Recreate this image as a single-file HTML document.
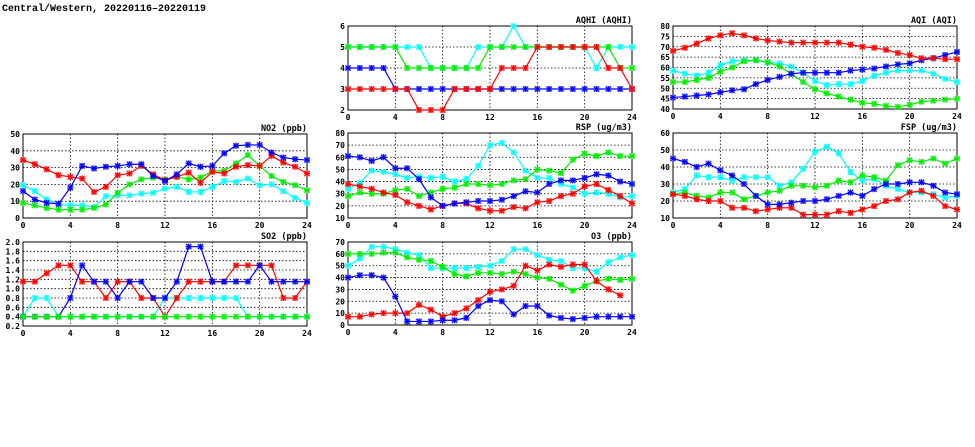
<!DOCTYPE html>
<html><head><meta charset="utf-8"><style>
html,body{margin:0;padding:0;background:#fff;width:975px;height:447px;overflow:hidden}
svg text{font-family:"DejaVu Sans Mono","Liberation Mono",monospace;font-weight:bold;fill:#000}
</style></head><body>
<svg id="s" width="975" height="447" xmlns="http://www.w3.org/2000/svg">
<text x="2" y="11" font-size="10" style="font-family:'Liberation Mono',monospace">Central/Western, 20220116–20220119</text>
</svg>
<script>
const S=document.getElementById('s');const NS='http://www.w3.org/2000/svg';
function el(t,a,txt){const e=document.createElementNS(NS,t);for(const k in a)e.setAttribute(k,a[k]);if(txt!=null)e.textContent=txt;S.appendChild(e);return e;}
const C={r:'#ff0000',g:'#00ee00',b:'#0000ff',c:'#00ffff'};
function panel(p){
 const {x0,x1,y0,y1,ymin,ymax,step,title,series,dec}=p;
 const X=h=>x0+(x1-x0)*h/24, Y=v=>y1-(y1-y0)*(v-ymin)/(ymax-ymin);
 for(let h=4;h<24;h+=4)el('line',{x1:X(h),x2:X(h),y1:y0,y2:y1,stroke:'#000','stroke-width':0.8,'stroke-dasharray':'1.5,2'});
 for(let v=ymin+step;v<ymax-1e-9;v+=step)el('line',{x1:x0,x2:x1,y1:Y(v),y2:Y(v),stroke:'#000','stroke-width':0.8,'stroke-dasharray':'1.5,2'});
 el('rect',{x:x0,y:y0,width:x1-x0,height:y1-y0,fill:'none',stroke:'#000','stroke-width':1});
 for(let v=ymin;v<=ymax+1e-9;v+=step){el('text',{x:x0-3,y:Y(v)+3,'font-size':8,'text-anchor':'end'},dec?v.toFixed(1):Math.round(v));}
 for(let h=0;h<=24;h+=4)el('text',{x:X(h),y:y1+10,'font-size':8,'text-anchor':'middle'},h);
 el('text',{x:x1,y:y0-3,'font-size':8.5,'text-anchor':'end'},title);
 for(const [c,d] of series){
  let pts=[];d.forEach((v,i)=>{if(v!=null)pts.push([X(i),Y(v)])});
  el('polyline',{points:pts.map(q=>q.join(',')).join(' '),fill:'none',stroke:C[c],'stroke-width':1.2});
  for(const [x,y] of pts){
   el('rect',{x:x-3,y:y-3,width:6,height:6,fill:C[c],opacity:0.3});
   el('path',{d:`M${x-3},${y}H${x+3}M${x},${y-3}V${y+3}M${x-2.5},${y-2.5}L${x+2.5},${y+2.5}M${x-2.5},${y+2.5}L${x+2.5},${y-2.5}`,stroke:C[c],'stroke-width':1.1});
  }
 }
}
panel({x0:23,x1:307,y0:134,y1:218,ymin:0,ymax:50,step:10,title:'NO2 (ppb)',series:[
 ['c',[19.5,16,11,8,7.5,7.5,6.5,13,13.5,13.5,14.5,15,17.5,18.5,15.5,15.5,18.5,22,21.5,23.5,19.5,20,16,12,9]],
 ['g',[9,7.5,6,5,5,5,6,8,15,20,23,24,23,24.5,23,24,28,28,32.5,37.5,31,25,21.5,19.5,16.5]],
 ['r',[34.5,32,29,25.5,24.5,23.5,15.5,18.5,25.5,26.5,31,26,22.5,24.5,27,21,27.5,26.5,30.5,31.5,31,37,33,30.5,26.5]],
 ['b',[16,11,9,8.5,18,31,29.5,30.5,31,32,32,25,22,26,32.5,30.5,31,38.5,43,43.5,43.5,39,36,35,34.5]]]});
panel({x0:23,x1:307,y0:242,y1:326,ymin:0.2,ymax:2.0,step:0.2,dec:1,title:'SO2 (ppb)',series:[
 ['c',[.4,.8,.8,.4,.4,.4,.4,.4,.4,.4,.4,.4,.8,.8,.8,.8,.8,.8,.8,.4,.4,.4,.4,.4,.4]],
 ['r',[1.15,1.15,1.33,1.5,1.5,1.15,1.15,.8,1.15,1.15,.8,.8,.4,.8,1.15,1.15,1.15,1.15,1.5,1.5,1.5,1.5,.8,.8,1.15]],
 ['b',[.4,.4,.4,.4,.8,1.5,1.15,1.15,.8,1.15,1.15,.8,.8,1.15,1.9,1.9,1.15,1.15,1.15,1.15,1.5,1.15,1.15,1.15,1.15]],
 ['g',Array(25).fill(.4)]]});
panel({x0:348,x1:632,y0:26,y1:110,ymin:2,ymax:6,step:1,title:'AQHI (AQHI)',series:[
 ['c',[5,5,5,5,5,5,5,4,4,4,4,5,5,5,6,5,5,5,5,5,5,4,5,5,5]],
 ['g',[5,5,5,5,5,4,4,4,4,4,4,4,5,5,5,5,5,5,5,5,5,5,5,4,4]],
 ['b',[4,4,4,4,3,3,3,3,3,3,3,3,3,3,3,3,3,3,3,3,3,3,3,3,3]],
 ['r',[3,3,3,3,3,3,2,2,2,3,3,3,3,4,4,4,5,5,5,5,5,5,4,4,3]]]});
panel({x0:348,x1:632,y0:133,y1:218,ymin:10,ymax:80,step:10,title:'RSP (ug/m3)',series:[
 ['c',[34,39,49,48,46,43,44,43,44,40,42,53,70,72,64,49,43,43,38,35,30,31,30,27,28]],
 ['g',[28,31,30,30,33,34,28,31,34,35,38,38,37,38,41,42,50,49,47,58,63,61,64,61,61]],
 ['r',[38,36,34,31,29,23,20,17,20,22,22,18,16,16,19,18,23,24,28,30,36,38,33,28,22]],
 ['b',[61,60,57,60,51,51,42,27,20,22,23,24,24,25,28,32,31,38,41,41,43,46,45,40,38]]]});
panel({x0:348,x1:632,y0:242,y1:325,ymin:0,ymax:70,step:10,title:'O3 (ppb)',series:[
 ['c',[50,56,66,66,64,61,59,48,48,48,48,49,50,54,64,64,59,55,54,48,48,45,53,57,59]],
 ['g',[60,60,60,61,61,57,55,54,49,43,41,44,44,43,45,43,40,39,34,29,33,37,39,38,39]],
 ['r',[7,7,9,10,10,10,17,13,7,10,14,21,28,30,33,50,46,51,49,51,51,37,30,25,null]],
 ['b',[40,42,42,40,24,3,3,3,4,4,6,16,21,20,9,16,16,8,6,5,6,7,7,7,7]]]});
panel({x0:673,x1:957,y0:26,y1:109,ymin:40,ymax:80,step:5,title:'AQI (AQI)',series:[
 ['c',[58.5,57,56,57.5,61,63,63.5,63.5,62.5,62,60.5,57.5,53.5,51.5,52,52,53.5,56,57.5,58.5,58.5,58.5,57,54.5,53]],
 ['g',[53,53,54,55,58,60,63,63.5,62.5,60.5,57,53,49.5,47.5,46,44.5,43,42.5,41.5,41,42,43.5,44,44.5,45]],
 ['b',[45.5,46,46.5,47,48,49,49.5,52,54,55.5,57,57.5,57.5,57.5,57.5,58.5,59,59.5,60.5,61.5,62,63.5,64.5,66,67.5]],
 ['r',[68,69.5,71.5,74,75.5,76.5,75.5,74,73,72.5,72,72,72,72,72,71,70,69.5,68.5,67,66,64.5,64.5,64,64]]]});
panel({x0:673,x1:957,y0:133,y1:218,ymin:10,ymax:60,step:10,title:'FSP (ug/m3)',series:[
 ['c',[25,27,35,34,34,32,34,34,34,29,31,39,49,52,48,37,32,33,29,27,25,25,24,22,23]],
 ['g',[24,25,23,22,25,25,21,23,25,26,29,29,28,29,32,31,35,34,32,41,44,43,45,42,45]],
 ['r',[24,23,21,20,20,16,16,14,15,16,16,12,12,12,14,13,15,17,20,21,25,26,23,17,15]],
 ['b',[45,43,40,42,38,35,30,23,18,18,19,20,20,21,23,25,23,27,30,30,31,31,29,25,24]]]});
</script>
</body></html>
